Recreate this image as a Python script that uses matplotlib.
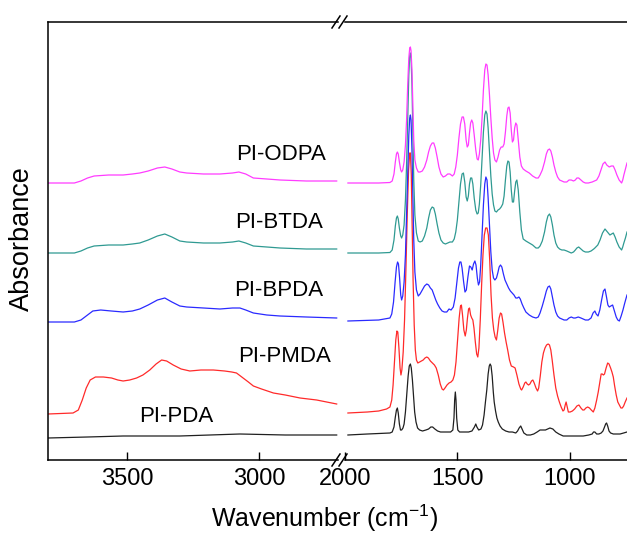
import matplotlib
matplotlib.use("Agg")
import matplotlib.pyplot as plt
from matplotlib.lines import Line2D

plt.rcParams.update({
    "font.family": ["Liberation Sans", "DejaVu Sans"],
    "mathtext.fontset": "custom",
    "mathtext.rm": "Liberation Sans",
    "mathtext.it": "Liberation Sans",
    "figure.facecolor": "white",
})

# --- spectra, (wavenumber cm-1, absorbance incl. offset) ---
# high-wavenumber window 3800-2700
PDA_HI = [(3800, 0.22), (3650, 0.23), (3515, 0.24), (3300, 0.24), (3072, 0.26),
          (2900, 0.25), (2705, 0.25)]
PMDA_HI = [(3800, 0.46), (3705, 0.47), (3685, 0.50), (3670, 0.60), (3655, 0.72),
           (3640, 0.80), (3620, 0.83), (3590, 0.83), (3559, 0.82), (3535, 0.80),
           (3515, 0.79), (3490, 0.80), (3464, 0.82), (3440, 0.85), (3414, 0.90),
           (3390, 0.96), (3369, 1.00), (3350, 0.99), (3325, 0.95), (3295, 0.91),
           (3262, 0.89), (3220, 0.90), (3173, 0.90), (3130, 0.89), (3103, 0.88),
           (3085, 0.87), (3065, 0.83), (3040, 0.78), (3021, 0.74), (2990, 0.71),
           (2945, 0.67), (2900, 0.65), (2844, 0.62), (2781, 0.60), (2705, 0.56)]
BPDA_HI = [(3800, 1.38), (3700, 1.38), (3675, 1.40), (3650, 1.45), (3630, 1.49),
           (3600, 1.50), (3560, 1.49), (3515, 1.48), (3480, 1.49), (3452, 1.51),
           (3420, 1.55), (3385, 1.60), (3357, 1.62), (3330, 1.58), (3300, 1.54),
           (3274, 1.53), (3210, 1.52), (3148, 1.51), (3100, 1.52), (3072, 1.52),
           (3050, 1.50), (3021, 1.47), (2970, 1.45), (2920, 1.44), (2820, 1.43),
           (2705, 1.42)]
BTDA_HI = [(3800, 2.07), (3700, 2.07), (3675, 2.09), (3650, 2.12), (3625, 2.14),
           (3570, 2.15), (3515, 2.15), (3480, 2.16), (3452, 2.17), (3420, 2.20),
           (3385, 2.24), (3357, 2.26), (3330, 2.23), (3300, 2.19), (3274, 2.18),
           (3210, 2.17), (3148, 2.17), (3100, 2.18), (3076, 2.19), (3050, 2.17),
           (3021, 2.14), (2970, 2.13), (2920, 2.12), (2820, 2.11), (2705, 2.11)]
ODPA_HI = [(3800, 2.77), (3700, 2.77), (3675, 2.79), (3650, 2.82), (3625, 2.84),
           (3570, 2.85), (3515, 2.85), (3480, 2.86), (3452, 2.87), (3420, 2.89),
           (3385, 2.92), (3357, 2.93), (3330, 2.91), (3300, 2.88), (3274, 2.87),
           (3210, 2.86), (3148, 2.86), (3100, 2.87), (3076, 2.88), (3050, 2.86),
           (3021, 2.82), (2970, 2.81), (2920, 2.80), (2820, 2.79), (2705, 2.79)]

# fingerprint window 2000-745
PDA_LO = [(1987, 0.25), (1900, 0.26), (1800, 0.27), (1790, 0.28), (1782, 0.33),
          (1776, 0.43), (1771, 0.50), (1767, 0.52), (1763, 0.47), (1758, 0.36),
          (1753, 0.30), (1748, 0.30), (1742, 0.32), (1737, 0.36), (1731, 0.48),
          (1725, 0.66), (1719, 0.84), (1714, 0.94), (1709, 0.96), (1705, 0.92),
          (1700, 0.80), (1695, 0.64), (1690, 0.48), (1684, 0.38), (1677, 0.32),
          (1668, 0.30), (1655, 0.29), (1640, 0.30), (1628, 0.31), (1618, 0.33),
          (1610, 0.33), (1600, 0.31), (1588, 0.29), (1575, 0.28), (1550, 0.28),
          (1530, 0.28), (1520, 0.30), (1515, 0.42), (1512, 0.60), (1509, 0.68),
          (1506, 0.60), (1503, 0.42), (1498, 0.30), (1490, 0.28), (1470, 0.28),
          (1450, 0.28), (1435, 0.29), (1424, 0.33), (1418, 0.36), (1413, 0.33),
          (1405, 0.30), (1395, 0.31), (1388, 0.35), (1381, 0.45), (1375, 0.58),
          (1369, 0.70), (1363, 0.86), (1358, 0.94), (1354, 0.96), (1350, 0.94),
          (1345, 0.84), (1340, 0.68), (1336, 0.58), (1330, 0.49), (1324, 0.42),
          (1318, 0.38), (1310, 0.34), (1300, 0.31), (1285, 0.29), (1270, 0.28),
          (1255, 0.28), (1240, 0.27), (1232, 0.29), (1225, 0.32), (1218, 0.34),
          (1212, 0.31), (1204, 0.27), (1191, 0.25), (1175, 0.25), (1160, 0.26),
          (1145, 0.28), (1132, 0.30), (1120, 0.30), (1108, 0.30), (1098, 0.31),
          (1088, 0.32), (1075, 0.31), (1062, 0.28), (1048, 0.26), (1029, 0.24),
          (1000, 0.24), (970, 0.24), (940, 0.24), (915, 0.25), (900, 0.26),
          (894, 0.28), (888, 0.28), (880, 0.26), (870, 0.26), (860, 0.27),
          (852, 0.29), (845, 0.33), (840, 0.36), (836, 0.37), (831, 0.34),
          (825, 0.29), (818, 0.27), (806, 0.26), (790, 0.26), (776, 0.26),
          (760, 0.27), (745, 0.28)]
PMDA_LO = [(1987, 0.47), (1900, 0.48), (1850, 0.49), (1815, 0.51), (1800, 0.53),
           (1792, 0.60), (1786, 0.75), (1780, 0.98), (1774, 1.20), (1769, 1.29),
           (1765, 1.28), (1760, 1.12), (1755, 0.92), (1751, 0.85), (1747, 0.90),
           (1741, 1.08), (1735, 1.40), (1729, 1.90), (1723, 2.45), (1717, 2.90),
           (1712, 3.07), (1709, 3.07), (1705, 2.85), (1701, 2.35), (1697, 1.80),
           (1692, 1.35), (1687, 1.10), (1682, 1.00), (1676, 0.97), (1668, 0.98),
           (1660, 0.99), (1652, 1.00), (1644, 1.02), (1636, 1.03), (1629, 1.02),
           (1620, 0.99), (1611, 0.97), (1602, 0.95), (1594, 0.92), (1585, 0.85),
           (1576, 0.76), (1568, 0.71), (1562, 0.70), (1555, 0.72), (1546, 0.75),
           (1537, 0.77), (1528, 0.78), (1520, 0.80), (1513, 0.85), (1506, 0.98),
           (1499, 1.20), (1492, 1.42), (1486, 1.54), (1482, 1.55), (1477, 1.45),
           (1471, 1.30), (1465, 1.24), (1460, 1.30), (1455, 1.42), (1450, 1.51),
           (1446, 1.52), (1441, 1.45), (1436, 1.42), (1431, 1.40), (1426, 1.32),
           (1420, 1.18), (1414, 1.06), (1409, 1.03), (1404, 1.12), (1398, 1.40),
           (1392, 1.75), (1386, 2.05), (1380, 2.25), (1374, 2.32), (1368, 2.32),
           (1362, 2.25), (1356, 2.00), (1350, 1.65), (1344, 1.42), (1338, 1.30),
           (1332, 1.23), (1326, 1.20), (1320, 1.30), (1314, 1.42), (1308, 1.47),
           (1303, 1.46), (1297, 1.38), (1290, 1.27), (1283, 1.18), (1276, 1.10),
           (1268, 1.00), (1260, 0.94), (1250, 0.93), (1243, 0.92), (1235, 0.85),
           (1226, 0.76), (1218, 0.71), (1214, 0.70), (1207, 0.73), (1200, 0.77),
           (1195, 0.78), (1189, 0.76), (1183, 0.75), (1177, 0.76), (1170, 0.79),
           (1164, 0.80), (1158, 0.77), (1150, 0.72), (1143, 0.69), (1138, 0.72),
           (1131, 0.84), (1124, 0.98), (1117, 1.07), (1110, 1.12), (1103, 1.15),
           (1096, 1.16), (1090, 1.15), (1084, 1.10), (1078, 1.00), (1070, 0.85),
           (1062, 0.72), (1054, 0.64), (1046, 0.58), (1038, 0.53), (1030, 0.49),
           (1025, 0.50), (1020, 0.55), (1016, 0.58), (1012, 0.54), (1006, 0.48),
           (998, 0.48), (988, 0.49), (978, 0.51), (968, 0.54), (959, 0.55),
           (950, 0.52), (942, 0.50), (936, 0.50), (928, 0.52), (920, 0.53),
           (912, 0.52), (904, 0.50), (895, 0.48), (888, 0.52), (880, 0.60),
           (873, 0.68), (866, 0.78), (860, 0.86), (855, 0.86), (850, 0.85),
           (845, 0.86), (838, 0.92), (831, 0.97), (825, 0.96), (818, 0.92),
           (812, 0.88), (806, 0.83), (800, 0.74), (793, 0.65), (786, 0.58),
           (779, 0.55), (772, 0.52), (766, 0.52), (760, 0.54), (753, 0.58),
           (745, 0.62)]
BPDA_LO = [(1987, 1.39), (1850, 1.40), (1800, 1.42), (1792, 1.46), (1784, 1.58),
           (1777, 1.78), (1771, 1.93), (1766, 1.98), (1762, 1.96), (1757, 1.82),
           (1752, 1.65), (1748, 1.60), (1743, 1.64), (1737, 1.78), (1731, 2.05),
           (1726, 2.45), (1721, 2.85), (1716, 3.25), (1712, 3.42), (1709, 3.45),
           (1706, 3.40), (1702, 3.10), (1698, 2.65), (1694, 2.20), (1689, 1.88),
           (1682, 1.70), (1674, 1.64), (1666, 1.66), (1656, 1.70), (1646, 1.74),
           (1636, 1.76), (1628, 1.75), (1620, 1.72), (1612, 1.70), (1604, 1.65),
           (1596, 1.60), (1588, 1.56), (1578, 1.52), (1568, 1.49), (1558, 1.48),
           (1547, 1.48), (1537, 1.51), (1528, 1.50), (1518, 1.53), (1510, 1.62),
           (1502, 1.78), (1495, 1.92), (1489, 1.98), (1484, 1.98), (1479, 1.92),
           (1472, 1.78), (1466, 1.68), (1460, 1.70), (1453, 1.83), (1446, 1.94),
           (1440, 1.93), (1434, 1.90), (1428, 1.96), (1422, 1.99), (1417, 1.95),
           (1411, 1.82), (1406, 1.75), (1401, 1.78), (1396, 1.95), (1390, 2.25),
           (1384, 2.55), (1378, 2.76), (1373, 2.83), (1368, 2.80), (1363, 2.62),
           (1357, 2.35), (1351, 2.08), (1345, 1.90), (1339, 1.82), (1333, 1.80),
           (1326, 1.82), (1320, 1.87), (1314, 1.93), (1308, 1.95), (1302, 1.93),
           (1295, 1.86), (1288, 1.80), (1280, 1.76), (1272, 1.72), (1264, 1.69),
           (1256, 1.67), (1248, 1.65), (1240, 1.62), (1233, 1.62), (1226, 1.63),
           (1220, 1.61), (1212, 1.56), (1204, 1.52), (1195, 1.48), (1180, 1.45),
           (1165, 1.43), (1150, 1.42), (1140, 1.43), (1132, 1.47), (1122, 1.54),
           (1112, 1.62), (1104, 1.69), (1097, 1.73), (1090, 1.74), (1084, 1.71),
           (1077, 1.63), (1070, 1.55), (1062, 1.48), (1054, 1.44), (1045, 1.42),
           (1035, 1.41), (1025, 1.40), (1013, 1.40), (1003, 1.42), (993, 1.43),
           (983, 1.42), (975, 1.42), (962, 1.43), (950, 1.42), (940, 1.41),
           (930, 1.40), (917, 1.40), (905, 1.42), (896, 1.47), (888, 1.49),
           (882, 1.46), (874, 1.44), (866, 1.50), (858, 1.60), (850, 1.69),
           (843, 1.71), (837, 1.64), (830, 1.55), (824, 1.53), (817, 1.54),
           (809, 1.55), (801, 1.49), (793, 1.43), (786, 1.40), (779, 1.39),
           (771, 1.44), (763, 1.50), (755, 1.57), (745, 1.65)]
BTDA_LO = [(1987, 2.07), (1850, 2.07), (1800, 2.075), (1790, 2.10), (1782, 2.20),
           (1776, 2.34), (1771, 2.42), (1767, 2.44), (1763, 2.41), (1758, 2.32),
           (1752, 2.24), (1748, 2.22), (1743, 2.25), (1737, 2.35), (1731, 2.60),
           (1726, 2.95), (1721, 3.40), (1716, 3.85), (1712, 4.04), (1709, 4.07),
           (1706, 4.02), (1702, 3.75), (1698, 3.30), (1694, 2.80), (1689, 2.45),
           (1682, 2.27), (1674, 2.19), (1666, 2.18), (1656, 2.19), (1646, 2.24),
           (1636, 2.32), (1628, 2.42), (1620, 2.50), (1612, 2.53), (1605, 2.52),
           (1598, 2.46), (1590, 2.36), (1582, 2.27), (1573, 2.20), (1563, 2.17),
           (1553, 2.16), (1543, 2.17), (1533, 2.18), (1522, 2.18), (1514, 2.21),
           (1507, 2.28), (1500, 2.40), (1493, 2.58), (1486, 2.76), (1479, 2.86),
           (1473, 2.87), (1467, 2.78), (1461, 2.63), (1456, 2.59), (1451, 2.64),
           (1446, 2.76), (1441, 2.82), (1436, 2.82), (1431, 2.76), (1425, 2.62),
           (1418, 2.50), (1412, 2.46), (1407, 2.47), (1402, 2.56), (1396, 2.75),
           (1390, 3.02), (1384, 3.28), (1378, 3.45), (1373, 3.49), (1368, 3.46),
           (1363, 3.32), (1357, 3.08), (1351, 2.84), (1345, 2.66), (1339, 2.55),
           (1333, 2.49), (1326, 2.48), (1319, 2.50), (1312, 2.51), (1305, 2.53),
           (1298, 2.56), (1292, 2.64), (1286, 2.80), (1280, 2.94), (1275, 2.99),
           (1270, 2.98), (1265, 2.88), (1260, 2.70), (1255, 2.58), (1250, 2.58),
           (1245, 2.69), (1240, 2.78), (1235, 2.80), (1229, 2.70), (1222, 2.48),
           (1215, 2.30), (1207, 2.21), (1195, 2.19), (1180, 2.17), (1165, 2.15),
           (1150, 2.12), (1140, 2.12), (1132, 2.14), (1122, 2.19), (1112, 2.28),
           (1104, 2.38), (1097, 2.44), (1090, 2.46), (1084, 2.43), (1077, 2.35),
           (1070, 2.25), (1062, 2.17), (1054, 2.13), (1045, 2.11), (1035, 2.10),
           (1025, 2.10), (1013, 2.09), (1003, 2.08), (993, 2.07), (983, 2.08),
           (975, 2.10), (968, 2.12), (960, 2.13), (950, 2.11), (940, 2.09),
           (930, 2.08), (917, 2.08), (905, 2.09), (893, 2.11), (888, 2.12),
           (875, 2.15), (865, 2.20), (854, 2.27), (843, 2.31), (832, 2.28),
           (821, 2.25), (813, 2.26), (806, 2.27), (798, 2.23), (790, 2.18),
           (780, 2.13), (769, 2.10), (764, 2.13), (759, 2.17), (752, 2.22),
           (745, 2.28)]
ODPA_LO = [(1987, 2.77), (1850, 2.77), (1800, 2.775), (1790, 2.79), (1782, 2.86),
           (1776, 2.98), (1771, 3.06), (1767, 3.08), (1763, 3.06), (1758, 2.98),
           (1752, 2.90), (1748, 2.88), (1743, 2.90), (1737, 2.98), (1731, 3.15),
           (1726, 3.40), (1721, 3.75), (1716, 4.02), (1712, 4.12), (1709, 4.13),
           (1706, 4.09), (1702, 3.90), (1698, 3.55), (1694, 3.20), (1689, 3.00),
           (1682, 2.92), (1674, 2.88), (1666, 2.88), (1656, 2.89), (1646, 2.93),
           (1636, 3.00), (1628, 3.08), (1620, 3.14), (1612, 3.17), (1605, 3.17),
           (1598, 3.12), (1590, 3.03), (1582, 2.93), (1573, 2.86), (1563, 2.83),
           (1553, 2.84), (1543, 2.86), (1533, 2.86), (1522, 2.84), (1514, 2.86),
           (1507, 2.93), (1500, 3.05), (1493, 3.22), (1486, 3.36), (1479, 3.43),
           (1473, 3.43), (1467, 3.36), (1461, 3.20), (1456, 3.13), (1451, 3.15),
           (1446, 3.27), (1441, 3.37), (1436, 3.40), (1431, 3.37), (1425, 3.25),
           (1418, 3.10), (1412, 3.01), (1407, 3.00), (1402, 3.06), (1396, 3.20),
           (1390, 3.42), (1384, 3.70), (1378, 3.90), (1373, 3.96), (1368, 3.95),
           (1363, 3.85), (1357, 3.65), (1351, 3.42), (1345, 3.22), (1339, 3.07),
           (1333, 3.00), (1326, 2.98), (1319, 3.03), (1312, 3.10), (1305, 3.13),
           (1298, 3.13), (1292, 3.16), (1286, 3.28), (1280, 3.44), (1275, 3.52),
           (1270, 3.53), (1265, 3.47), (1260, 3.30), (1255, 3.18), (1250, 3.20),
           (1245, 3.32), (1240, 3.37), (1235, 3.35), (1229, 3.20), (1222, 3.03),
           (1215, 2.94), (1207, 2.91), (1195, 2.89), (1180, 2.87), (1165, 2.84),
           (1150, 2.82), (1140, 2.82), (1132, 2.85), (1122, 2.90), (1112, 2.98),
           (1104, 3.06), (1097, 3.10), (1090, 3.11), (1084, 3.09), (1077, 3.03),
           (1070, 2.95), (1062, 2.88), (1054, 2.83), (1045, 2.80), (1035, 2.79),
           (1025, 2.78), (1013, 2.78), (1003, 2.80), (993, 2.80), (983, 2.79),
           (975, 2.80), (968, 2.82), (960, 2.82), (950, 2.80), (940, 2.78),
           (930, 2.77), (917, 2.77), (900, 2.78), (880, 2.80), (870, 2.84),
           (861, 2.90), (852, 2.96), (843, 2.98), (835, 2.95), (824, 2.93),
           (815, 2.94), (806, 2.94), (798, 2.90), (790, 2.85), (780, 2.80),
           (769, 2.77), (764, 2.80), (759, 2.85), (752, 2.91), (745, 2.97)]

NAMES = ["PI-PDA", "PI-PMDA", "PI-BPDA", "PI-BTDA", "PI-ODPA"]
COLORS = ["#202020", "#ff2a2a", "#2a2aff", "#2f9a92", "#ff3cff"]
HI_SETS = [PDA_HI, PMDA_HI, BPDA_HI, BTDA_HI, ODPA_HI]
LO_SETS = [PDA_LO, PMDA_LO, BPDA_LO, BTDA_LO, ODPA_LO]
LABEL_POS = [(3312, 0.44), (2901, 1.03), (2924, 1.70), (2924, 2.38), (2916, 3.05)]

W, H = 627, 535
fig = plt.figure(figsize=(W / 100, H / 100), dpi=100)

y0, y1 = 75 / H, 438 / H
ax1 = fig.add_axes([48 / W, y0, (338 - 48) / W, y1])
ax2 = fig.add_axes([345 / W, y0, (W - 345) / W, y1])

for name, col, hi, lo in zip(NAMES, COLORS, HI_SETS, LO_SETS):
    ax1.plot(*zip(*hi), color=col, lw=0.9)
    ax2.plot(*zip(*lo), color=col, lw=0.9)

ax1.set_xlim(3800, 2700)
ax2.set_xlim(2000, 745)
for ax in (ax1, ax2):
    ax.set_ylim(0, 4.38)
    ax.set_yticks([])
    ax.tick_params(axis="x", direction="in", length=6, width=1,
                   labelsize=17, pad=6)
    for sp in ax.spines.values():
        sp.set_linewidth(1.1)
ax1.set_xticks([3500, 3000])
ax2.set_xticks([2000, 1500, 1000])
ax1.spines["right"].set_visible(False)
ax2.spines["left"].set_visible(False)
ax2.spines["right"].set_visible(False)

for (xl, yl), name in zip(LABEL_POS, NAMES):
    ax1.text(xl, yl, name, fontsize=16, ha="center", va="center")

# axis-break marks
for yb in (75, 513):
    for xb in (336, 343):
        fig.add_artist(Line2D([(xb - 4) / W, (xb + 4) / W],
                              [(yb - 6) / H, (yb + 6) / H],
                              transform=fig.transFigure, color="black", lw=1.1))

fig.text(22 / W, 296 / H, "Absorbance", rotation=90, fontsize=19.5,
         ha="center", va="center")
fig.text(325 / W, 17 / H, "Wavenumber (cm$^{-1}$)", fontsize=18,
         ha="center", va="center")

fig.savefig("out.png", dpi=100)
